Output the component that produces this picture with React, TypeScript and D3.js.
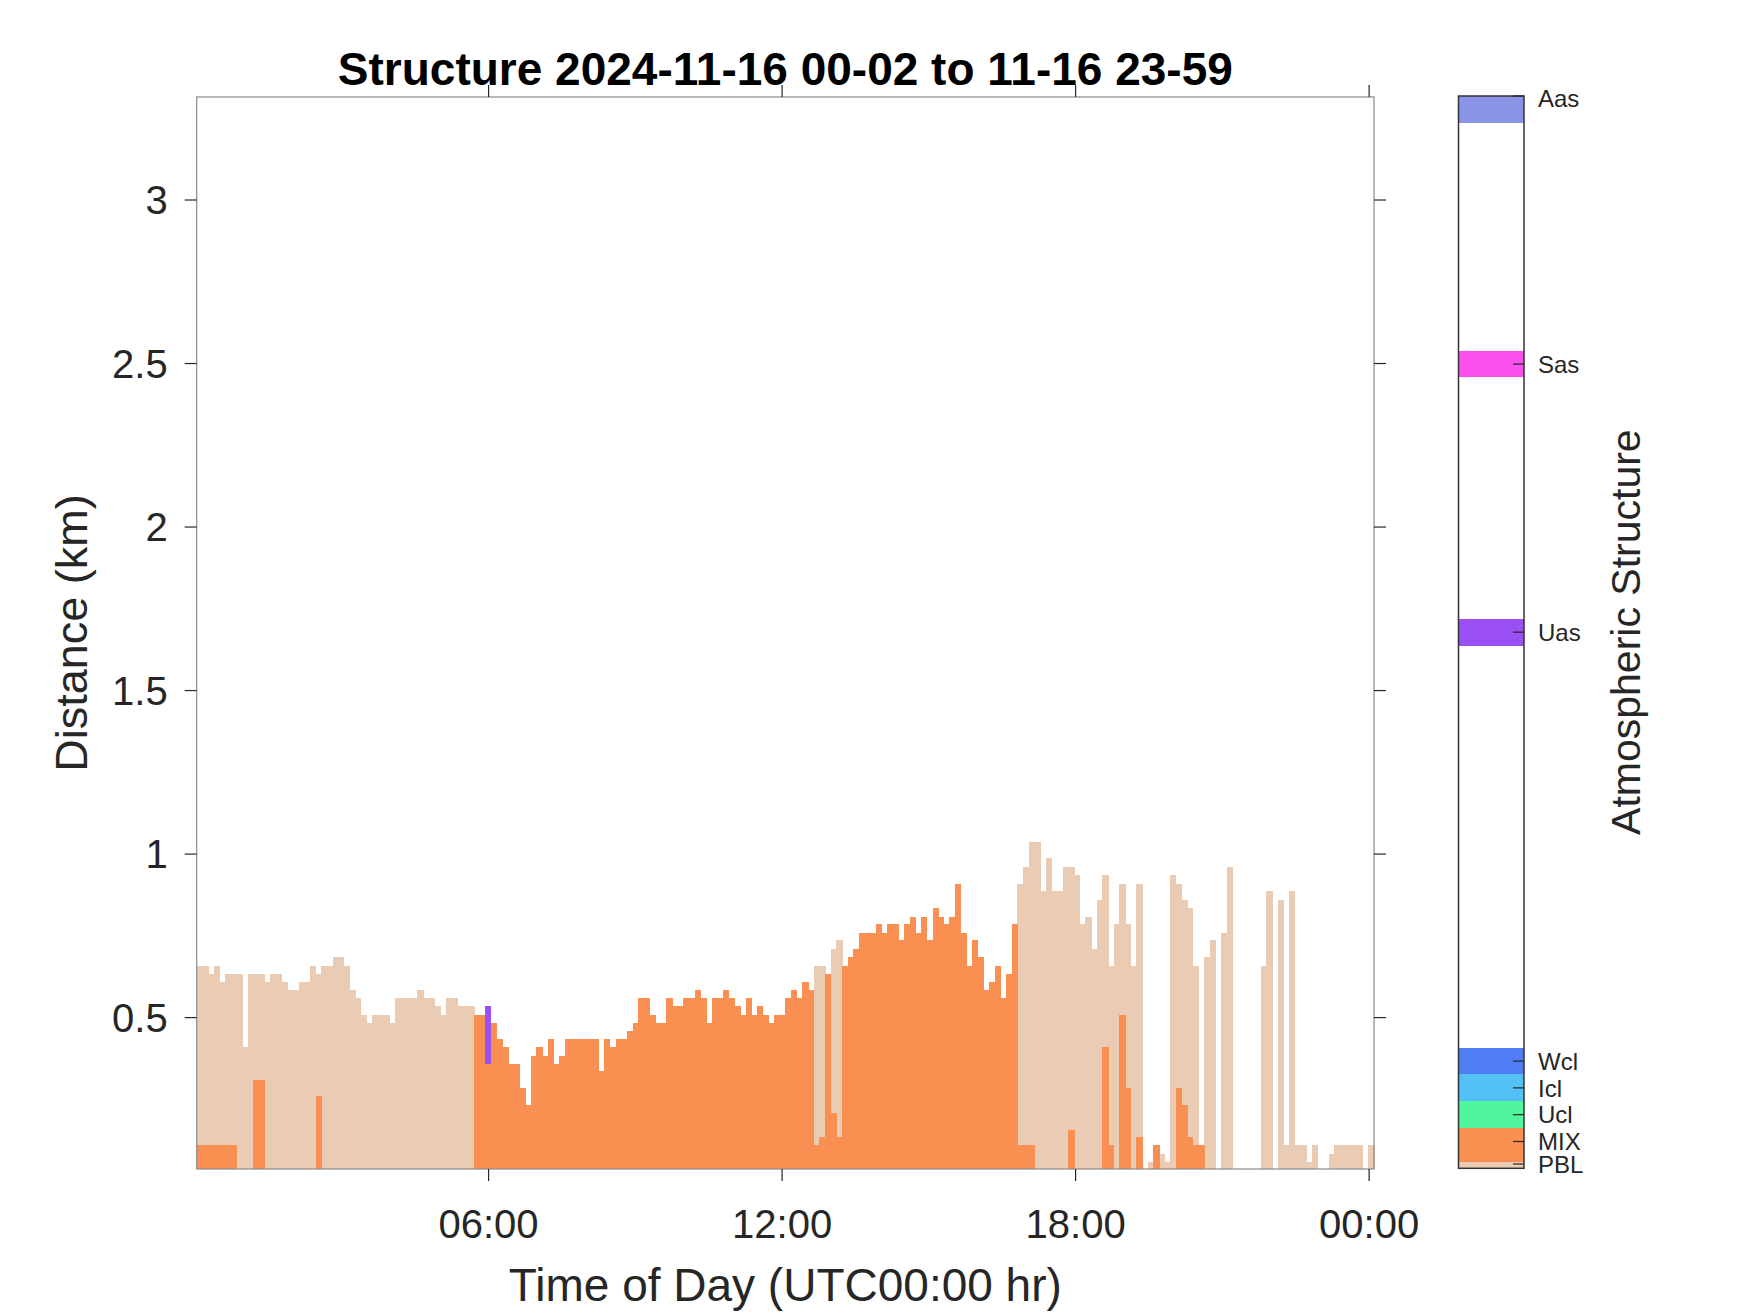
import React from 'react';
import * as d3 from 'd3';

// ---------- text ----------
const TITLE = 'Structure 2024-11-16 00-02 to 11-16 23-59';
const X_LABEL = 'Time of Day (UTC00:00 hr)';
const Y_LABEL = 'Distance (km)';
const CB_LABEL = 'Atmospheric Structure';

// ---------- axes ----------
const START_HOUR = 2 / 60; // 00:02
const END_HOUR = 24.1;
const N_PROFILES = 208;
const X_TICKS = [6, 12, 18, 24];
const X_TICK_LABELS = ['06:00', '12:00', '18:00', '00:00'];
const Y_MIN = 0.037;
const Y_MAX = 3.315;
const Y_TICKS = [0.5, 1, 1.5, 2, 2.5, 3];
const Y_TICK_LABELS = ['0.5', '1', '1.5', '2', '2.5', '3'];

// ---------- data: top of each class per profile (km), 0 = absent ----------
const PBL_TOP = [
  0.659, 0.659, 0.633, 0.659, 0.608, 0.633, 0.633, 0.633, 0.41, 0.633,
  0.633, 0.633, 0.608, 0.633, 0.633, 0.608, 0.584, 0.584, 0.608, 0.608,
  0.659, 0.633, 0.659, 0.659, 0.684, 0.684, 0.659, 0.584, 0.56, 0.507,
  0.483, 0.507, 0.507, 0.507, 0.483, 0.56, 0.56, 0.56, 0.56, 0.584,
  0.56, 0.56, 0.536, 0.507, 0.56, 0.56, 0.536, 0.536, 0.536, 0,
  0, 0, 0, 0, 0, 0, 0, 0, 0, 0,
  0, 0, 0, 0, 0, 0, 0, 0, 0, 0,
  0, 0, 0, 0, 0, 0, 0, 0, 0, 0,
  0, 0, 0, 0, 0, 0, 0, 0, 0, 0,
  0, 0, 0, 0, 0, 0, 0, 0, 0, 0,
  0, 0, 0, 0, 0, 0, 0, 0, 0, 0.659,
  0.659, 0, 0.71, 0.736, 0, 0, 0, 0, 0, 0,
  0, 0, 0, 0, 0, 0, 0, 0, 0, 0,
  0, 0, 0, 0, 0, 0, 0, 0, 0, 0,
  0, 0, 0, 0, 0, 0.91, 0.961, 1.036, 1.036, 0.886,
  0.987, 0.886, 0.886, 0.961, 0.961, 0.935, 0.785, 0.809, 0.71, 0.861,
  0.935, 0.659, 0.785, 0.91, 0.785, 0.659, 0.91, 0, 0.058, 0,
  0.082, 0.058, 0.935, 0.91, 0.861, 0.836, 0.659, 0, 0.684, 0.736,
  0, 0.759, 0.961, 0, 0, 0, 0, 0, 0.659, 0.886,
  0, 0.861, 0.111, 0.886, 0.111, 0.111, 0.058, 0.111, 0, 0,
  0.082, 0.111, 0.111, 0.111, 0.111, 0.111, 0, 0.111,
];

const MIX_TOP = [
  0.111, 0.111, 0.111, 0.111, 0.111, 0.111, 0.111, 0, 0, 0,
  0.308, 0.308, 0, 0, 0, 0, 0, 0, 0, 0,
  0, 0.259, 0, 0, 0, 0, 0, 0, 0, 0,
  0, 0, 0, 0, 0, 0, 0, 0, 0, 0,
  0, 0, 0, 0, 0, 0, 0, 0, 0, 0.507,
  0.507, 0.357, 0.483, 0.434, 0.41, 0.357, 0.357, 0.285, 0.232, 0.382,
  0.41, 0.382, 0.434, 0.357, 0.382, 0.434, 0.434, 0.434, 0.434, 0.434,
  0.434, 0.336, 0.434, 0.41, 0.434, 0.434, 0.459, 0.483, 0.56, 0.56,
  0.507, 0.483, 0.483, 0.56, 0.536, 0.536, 0.56, 0.56, 0.584, 0.56,
  0.483, 0.56, 0.56, 0.584, 0.56, 0.536, 0.507, 0.56, 0.507, 0.536,
  0.507, 0.483, 0.507, 0.507, 0.56, 0.584, 0.56, 0.608, 0.584, 0.111,
  0.136, 0.633, 0.208, 0.136, 0.659, 0.684, 0.71, 0.759, 0.759, 0.759,
  0.785, 0.759, 0.785, 0.785, 0.736, 0.785, 0.809, 0.759, 0.809, 0.736,
  0.836, 0.809, 0.785, 0.809, 0.91, 0.759, 0.659, 0.736, 0.684, 0.584,
  0.608, 0.659, 0.56, 0.633, 0.785, 0.111, 0.111, 0.111, 0, 0,
  0, 0, 0, 0, 0.157, 0, 0, 0, 0, 0,
  0.41, 0.111, 0, 0.507, 0.285, 0, 0.136, 0, 0, 0.111,
  0, 0, 0, 0.285, 0.232, 0.136, 0.111, 0.111, 0, 0,
  0, 0, 0, 0, 0, 0, 0, 0, 0, 0,
  0, 0, 0, 0, 0, 0, 0, 0, 0, 0,
  0, 0, 0, 0, 0, 0, 0, 0,
];

// elevated aerosol layer (Uas) segments
const UAS_PROFILE = [51];
const UAS_BASE = [0.357];
const UAS_TOP = [0.536];

// ---------- colour bar classes ----------
const CLASS_NAMES = ['PBL', 'MIX', 'Ucl', 'Icl', 'Wcl', 'Uas', 'Sas', 'Aas'];
const CLASS_LEVEL = [0.16, 1, 2, 3, 4, 20, 30, 40];
const CLASS_LO = [0, 0.25, 1.5, 2.5, 3.5, 19.5, 29.5, 39];
const CLASS_HI = [0.25, 1.5, 2.5, 3.5, 4.5, 20.5, 30.5, 40];
const CLASS_COLORS = ['#EACBB4', '#F98F51', '#50F59E', '#53C1F5', '#4F7DF5', '#9B50F5', '#F950EF', '#8A94E7'];
const CB_MIN = 0;
const CB_MAX = 40;

const FONT = '"Liberation Sans", Arial, Helvetica, sans-serif';
const TXT = '#262626';

export default function App() {
  const W = 1750;
  const H = 1313;
  const plot = { left: 196.7, right: 1374, top: 97, bottom: 1169 };
  const cb = { left: 1458.5, right: 1524, top: 96, bottom: 1168.3 };

  const x = d3.scaleLinear().domain([START_HOUR, END_HOUR]).range([plot.left, plot.right]);
  const y = d3.scaleLinear().domain([Y_MIN, Y_MAX]).range([plot.bottom, plot.top]);
  const cbY = d3.scaleLinear().domain([CB_MIN, CB_MAX]).range([cb.bottom, cb.top]);

  const step = (END_HOUR - START_HOUR) / N_PROFILES;
  const times = d3.range(N_PROFILES).map((i) => START_HOUR + i * step);
  const colOf = (name: string) => CLASS_COLORS[CLASS_NAMES.indexOf(name)];

  const binX = (i: number) => x(times[i]);
  const binW = (i: number) => x(times[i] + step) - x(times[i]) + 0.6;

  const tickLen = 12;

  return (
    <svg
      width={W}
      height={H}
      style={{ position: 'absolute', left: 0, top: 0, background: '#fff' }}
      fontFamily={FONT}
    >
      <rect x={0} y={0} width={W} height={H} fill="#fff" />
      <g shapeRendering="crispEdges">
        {PBL_TOP.map((v, i) =>
          v > 0 ? (
            <rect key={'p' + i} x={binX(i)} y={y(v)} width={binW(i)} height={y(Y_MIN) - y(v)} fill={colOf('PBL')} />
          ) : null
        )}
        {MIX_TOP.map((v, i) =>
          v > 0 ? (
            <rect key={'m' + i} x={binX(i)} y={y(v)} width={binW(i)} height={y(Y_MIN) - y(v)} fill={colOf('MIX')} />
          ) : null
        )}
        {UAS_PROFILE.map((p, k) => (
          <rect
            key={'u' + k}
            x={binX(p)}
            y={y(UAS_TOP[k])}
            width={binW(p) - 0.6}
            height={y(UAS_BASE[k]) - y(UAS_TOP[k])}
            fill={colOf('Uas')}
          />
        ))}
      </g>

      {/* axes box */}
      <rect
        x={plot.left}
        y={plot.top}
        width={plot.right - plot.left}
        height={plot.bottom - plot.top}
        fill="none"
        stroke="#8a8a8a"
        strokeWidth={1.2}
      />

      {/* y ticks */}
      {Y_TICKS.map((t, i) => (
        <g key={'yt' + i}>
          <line x1={plot.left - tickLen} x2={plot.left} y1={y(t)} y2={y(t)} stroke={TXT} strokeWidth={1.2} />
          <line x1={plot.right} x2={plot.right + tickLen} y1={y(t)} y2={y(t)} stroke={TXT} strokeWidth={1.2} />
          <text x={plot.left - 29} y={y(t)} dy="0.36em" textAnchor="end" fontSize={40} fill={TXT}>
            {Y_TICK_LABELS[i]}
          </text>
        </g>
      ))}

      {/* x ticks */}
      {X_TICKS.map((t, i) => (
        <g key={'xt' + i}>
          <line x1={x(t)} x2={x(t)} y1={plot.bottom} y2={plot.bottom + tickLen} stroke={TXT} strokeWidth={1.2} />
          <line x1={x(t)} x2={x(t)} y1={plot.top - tickLen} y2={plot.top} stroke={TXT} strokeWidth={1.2} />
          <text x={x(t)} y={1238} textAnchor="middle" fontSize={40} fill={TXT}>
            {X_TICK_LABELS[i]}
          </text>
        </g>
      ))}

      {/* labels */}
      <text x={(plot.left + plot.right) / 2} y={85} textAnchor="middle" fontSize={46} fontWeight="bold" fill="#000">
        {TITLE}
      </text>
      <text x={(plot.left + plot.right) / 2} y={1301} textAnchor="middle" fontSize={46} fill={TXT}>
        {X_LABEL}
      </text>
      <text
        transform={`translate(87,${(plot.top + plot.bottom) / 2}) rotate(-90)`}
        textAnchor="middle"
        fontSize={45}
        fill={TXT}
      >
        {Y_LABEL}
      </text>

      {/* colour bar */}
      <rect x={cb.left} y={cb.top} width={cb.right - cb.left} height={cb.bottom - cb.top} fill="#fff" />
      <g shapeRendering="crispEdges">
        {CLASS_NAMES.map((n, i) => (
          <rect
            key={'cb' + i}
            x={cb.left}
            y={cbY(CLASS_HI[i])}
            width={cb.right - cb.left}
            height={cbY(CLASS_LO[i]) - cbY(CLASS_HI[i])}
            fill={CLASS_COLORS[i]}
          />
        ))}
      </g>
      <rect
        x={cb.left}
        y={cb.top}
        width={cb.right - cb.left}
        height={cb.bottom - cb.top}
        fill="none"
        stroke="#333"
        strokeWidth={1.5}
      />
      {CLASS_NAMES.map((n, i) => (
        <g key={'cbt' + i}>
          <line x1={cb.right - 11} x2={cb.right} y1={cbY(CLASS_LEVEL[i])} y2={cbY(CLASS_LEVEL[i])} stroke={TXT} strokeWidth={1.2} />
          <text x={cb.right + 14} y={cbY(CLASS_LEVEL[i]) + (i === 7 ? 2 : 0)} dy="0.36em" fontSize={24} fill={TXT}>
            {n}
          </text>
        </g>
      ))}
      <text
        transform={`translate(1640,${(cb.top + cb.bottom) / 2}) rotate(-90)`}
        textAnchor="middle"
        fontSize={41}
        fill={TXT}
      >
        {CB_LABEL}
      </text>
    </svg>
  );
}
